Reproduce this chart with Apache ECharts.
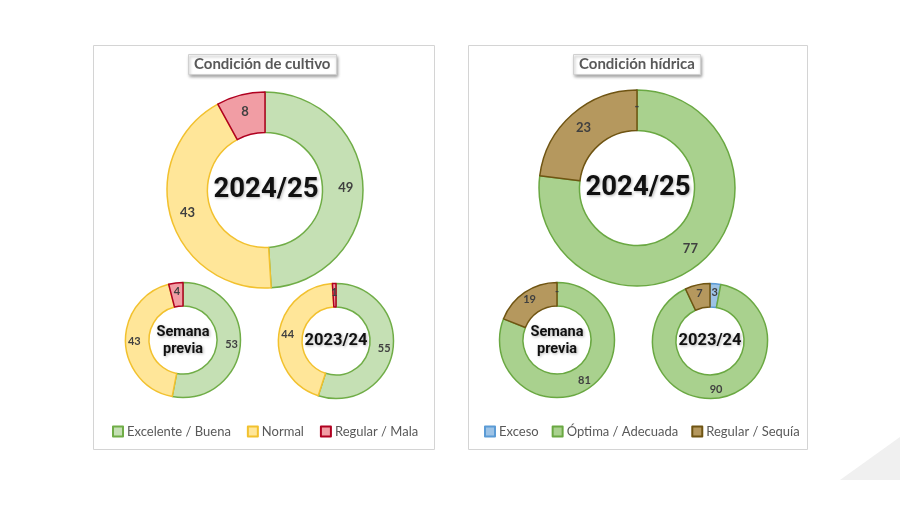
<!DOCTYPE html>
<html>
<head>
<meta charset="utf-8">
<script src="https://cdn.jsdelivr.net/npm/echarts@6/dist/echarts.min.js"></script>
<style>html,body{margin:0;padding:0;background:#fff}#c{width:900px;height:505px}</style>
</head>
<body>
<div id="c"></div>
<script>
// ---- data ----
const cultivoCats = ['Excelente / Buena', 'Normal', 'Regular / Mala'];
const cultivo2425 = [49, 43, 8];
const cultivoPrev = [53, 43, 4];
const cultivo2324 = [55, 44, 1];

const hidricaCats = ['Exceso', 'Óptima / Adecuada', 'Regular / Sequía'];
const hidrica2425 = [0, 77, 23];
const hidricaPrev = [0, 81, 19];
const hidrica2324 = [3, 90, 7];

const centerLabels = ['2024/25', 'Semana\nprevia', '2023/24'];
const titles = ['Condición de cultivo', 'Condición hídrica'];

// ---- styles ----
const cultivoFill = ['#C5E0B4', '#FFE699', '#F19DA4'];
const cultivoBorder = ['#70AD47', '#F2C12E', '#B00020'];
const hidricaFill = ['#9DC3E6', '#A9D18E', '#B5985E'];
const hidricaBorder = ['#5B9BD5', '#6AA842', '#6F5412'];

const chart = echarts.init(document.getElementById('c'), null, {renderer: 'canvas'});

function makeData(cats, vals, fill, border) {
  return cats.map((n, i) => ({
    name: n, value: vals[i],
    itemStyle: {color: fill[i], borderColor: border[i], borderWidth: 1.5}
  }));
}

function pie(cats, vals, fill, border, center, radius, fontSize) {
  return {
    type: 'pie',
    center: center,
    radius: radius,
    startAngle: 90,
    clockwise: true,
    silent: true,
    animation: false,
    stillShowZeroSum: true,
    minShowLabelAngle: -1,
    label: {
      show: true, position: 'inside',
      formatter: p => (p.value === 0 ? '-' : String(p.value)),
      color: '#404040', fontSize: fontSize, fontWeight: 'bold',
      fontFamily: 'Lato'
    },
    labelLine: {show: false},
    emphasis: {disabled: true},
    data: makeData(cats, vals, fill, border)
  };
}

const series = [
  pie(cultivoCats, cultivo2425, cultivoFill, cultivoBorder, [265, 190], [57.5, 98], 13),
  pie(cultivoCats, cultivoPrev, cultivoFill, cultivoBorder, [183, 340], [34, 57.5], 11),
  pie(cultivoCats, cultivo2324, cultivoFill, cultivoBorder, [336, 341], [34, 57.5], 11),
  pie(hidricaCats, hidrica2425, hidricaFill, hidricaBorder, [637, 188], [57.5, 98], 13),
  pie(hidricaCats, hidricaPrev, hidricaFill, hidricaBorder, [557, 340], [34, 57.5], 11),
  pie(hidricaCats, hidrica2324, hidricaFill, hidricaBorder, [710, 341], [34, 57.5], 11)
];

function centerText(x, y, text, size) {
  return {
    type: 'text', x: x, y: y, silent: true, z: 100,
    style: {
      text: text, align: 'center', verticalAlign: 'middle',
      font: 'bold ' + size + 'px Roboto', fill: '#111',
      lineHeight: size * 1.2,
      textShadowColor: 'rgba(0,0,0,0.3)', textShadowBlur: 3,
      textShadowOffsetX: 1, textShadowOffsetY: 1
    }
  };
}

const titleStyle = {
  color: '#595959', fontSize: 15, fontWeight: 'bold', fontFamily: 'Lato'
};

const legendText = {color: '#595959', fontSize: 13, fontFamily: 'Lato', padding: [0, 0, 0, -1]};

const option = {
  backgroundColor: '#ffffff',
  animation: false,
  title: [
    {text: titles[0], left: 188, top: 54, padding: [3, 6, 3, 6],
     backgroundColor: '#fff', borderColor: '#D0D0D0', borderWidth: 1,
     shadowBlur: 3, shadowColor: 'rgba(0,0,0,0.35)', shadowOffsetX: 1, shadowOffsetY: 2,
     textStyle: titleStyle},
    {text: titles[1], left: 573, top: 54, padding: [3, 6, 3, 6],
     backgroundColor: '#fff', borderColor: '#D0D0D0', borderWidth: 1,
     shadowBlur: 3, shadowColor: 'rgba(0,0,0,0.35)', shadowOffsetX: 1, shadowOffsetY: 2,
     textStyle: titleStyle}
  ],
  legend: [
    {data: cultivoCats, left: 107, top: 420, icon: 'rect', itemWidth: 10, itemHeight: 10,
     itemGap: 16, selectedMode: false, textStyle: legendText},
    {data: hidricaCats, left: 479, top: 420, icon: 'rect', itemWidth: 10, itemHeight: 10,
     itemGap: 13, selectedMode: false, textStyle: legendText}
  ],
  graphic: [
    {type: 'rect', shape: {x: 93.5, y: 45.5, width: 341, height: 404}, silent: true, z: -10,
     style: {fill: 'none', stroke: '#D4D4D4', lineWidth: 1}},
    {type: 'rect', shape: {x: 468.5, y: 45.5, width: 339, height: 404}, silent: true, z: -10,
     style: {fill: 'none', stroke: '#D4D4D4', lineWidth: 1}},
    {type: 'polygon', shape: {points: [[840, 480], [900, 437], [900, 480]]}, silent: true, z: -20,
     style: {fill: '#F0F0F0'}},
    centerText(266, 190, centerLabels[0], 27.5),
    centerText(183, 341, centerLabels[1], 14.5),
    centerText(336, 341, centerLabels[2], 16.5),
    centerText(638, 188, centerLabels[0], 27.5),
    centerText(557, 341, centerLabels[1], 14.5),
    centerText(710, 341, centerLabels[2], 16.5)
  ],
  series: series
};

chart.setOption(option);
</script>
</body>
</html>
